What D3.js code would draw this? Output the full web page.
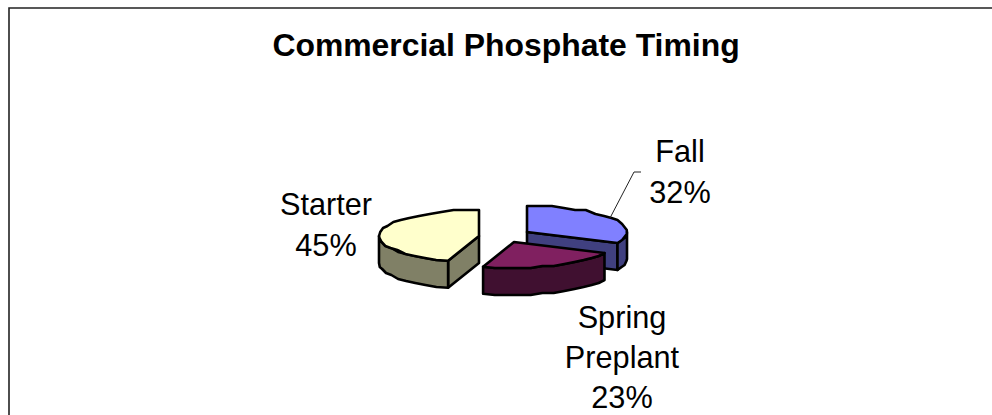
<!DOCTYPE html>
<html><head><meta charset="utf-8">
<script src="https://cdn.jsdelivr.net/npm/d3@7"></script>
<style>html,body{margin:0;padding:0;background:#fff}svg{display:block}text{font-family:"Liberation Sans",Arial,sans-serif;fill:#000}</style>
</head><body>
<script>
const title = "Commercial Phosphate Timing";
const categories = ["Fall", "Spring Preplant", "Starter"];
const values = [32, 23, 45];
const percentLabels = ["32%", "23%", "45%"];
const topColors = ["#8080FF", "#802060", "#FFFFCC"];
const sideColors = ["#404080", "#401030", "#808066"];

const W = 992, H = 415;
const rx = 100, ry = 26, depth = 27;
const apexes = [[527, 232], [514, 242], [479, 236]];
const labelLines = [["Fall", "32%"], ["Spring", "Preplant", "23%"], ["Starter", "45%"]];
const labelAnchors = [[680, 162, 41], [622, 328, 40], [326, 215, 41]];
const drawOrder = [2, 0, 1];

const svg = d3.select("body").append("svg").attr("width", W).attr("height", H);
svg.append("path").attr("d", d3.line()([[9, H], [9, 8], [W, 8]]))
  .attr("fill", "none").attr("stroke", "#222").attr("stroke-width", 1.6);
svg.append("text").attr("x", 506).attr("y", 56).attr("text-anchor", "middle")
  .attr("font-size", 31.9).attr("font-weight", "bold").text(title);

const arcs = d3.pie().sort(null)(values);
const line = d3.line();
const snap = v => Math.round(v / 2) * 2;
const pt = (c, a, dy = 0) => [c[0] + rx * Math.sin(a), c[1] - ry * Math.cos(a) + dy];
function arcPts(c, a0, a1, dy = 0) {
  const n = Math.max(2, Math.ceil((a1 - a0) / 0.13));
  return d3.range(n + 1).map(i => {
    const p = pt(c, a0 + (a1 - a0) * i / n, 0);
    const onEnd = i === 0 || i === n;
    return [p[0], (onEnd ? p[1] : snap(p[1])) + dy];
  });
}
const g = svg.append("g").attr("stroke", "#000").attr("stroke-width", 2.6).attr("stroke-linejoin", "round");
const poly = (pts, fill) => g.append("path").attr("d", line(pts) + "Z").attr("fill", fill);

drawOrder.forEach(i => {
  const c = apexes[i], a0 = arcs[i].startAngle, a1 = arcs[i].endAngle;
  const side = sideColors[i];
  const base = [c[0], c[1] + depth];
  if (Math.sin(a0) < -1e-6) poly([c, pt(c, a0), pt(c, a0, depth), base], side);
  if (Math.sin(a1) > 1e-6) poly([c, pt(c, a1), pt(c, a1, depth), base], side);
  const f0 = Math.max(a0, Math.PI / 2), f1 = Math.min(a1, 1.5 * Math.PI);
  if (f1 > f0) {
    const top = arcPts(c, f0, f1), bot = arcPts(c, f0, f1, depth).reverse();
    poly(top.concat(bot), side);
  }
  poly([c].concat(arcPts(c, a0, a1)), topColors[i]);
});

svg.append("path").attr("d", line([[610, 218], [634, 172], [641, 172]]))
  .attr("fill", "none").attr("stroke", "#222").attr("stroke-width", 1);

labelLines.forEach((ls, i) => {
  const [x, y, lh] = labelAnchors[i];
  ls.forEach((s, j) => svg.append("text").attr("x", x).attr("y", y + j * lh)
    .attr("text-anchor", "middle").attr("font-size", 30.7).text(s));
});
</script>
</body></html>
